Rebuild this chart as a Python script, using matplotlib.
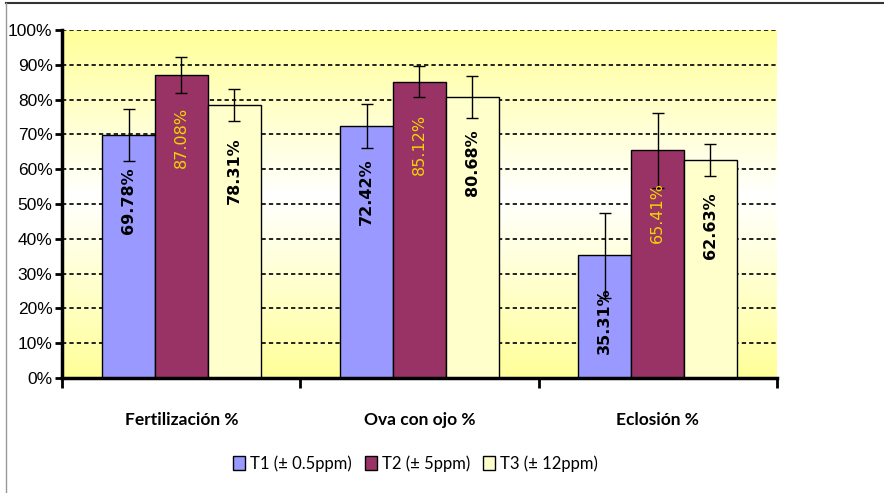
import numpy as np
import matplotlib
matplotlib.use("Agg")
import matplotlib.pyplot as plt
from matplotlib.colors import LinearSegmentedColormap
from matplotlib.lines import Line2D

categories = ["Fertilización %", "Ova con ojo %", "Eclosión %"]
series_names = ["T1 (± 0.5ppm)", "T2 (± 5ppm)", "T3 (± 12ppm)"]
t1 = [69.78, 72.42, 35.31]
t2 = [87.08, 85.12, 65.41]
t3 = [78.31, 80.68, 62.63]
t1_err = [7.5, 6.2, 12.2]
t2_err = [5.2, 4.4, 10.8]
t3_err = [4.6, 6.1, 4.7]
y_ticks = [0, 10, 20, 30, 40, 50, 60, 70, 80, 90, 100]

bar_colors = ["#9999FF", "#993366", "#FFFFCC"]
label_colors = ["black", "#F2D500", "black"]
label_weights = ["bold", "normal", "bold"]

fig = plt.figure(figsize=(8.84, 4.93), dpi=100)
ax = fig.add_axes([0.0705, 0.2333, 0.808, 0.7059])

# background gradient yellow -> white -> yellow
cmap = LinearSegmentedColormap.from_list("bg", [(0, "#FFFF99"), (0.52, "#FFFFFF"), (1, "#FFFF99")])
grad = np.linspace(0, 1, 256).reshape(-1, 1)
ax.imshow(grad, cmap=cmap, extent=[0, 3, 0, 100], aspect="auto", origin="lower", zorder=0)

for v in y_ticks[1:]:
    ax.axhline(v, color="#222222", lw=1.4, dashes=(2.2, 1.6), zorder=1)

x = np.arange(len(categories)) + 0.5
w = 0.222
all_vals = [t1, t2, t3]
all_errs = [t1_err, t2_err, t3_err]
for i in range(3):
    xs = x + (i - 1) * w
    ax.bar(xs, all_vals[i], w, color=bar_colors[i], edgecolor="black", lw=1,
           label=series_names[i], zorder=2)
    ax.errorbar(xs, all_vals[i], yerr=all_errs[i], fmt="none", ecolor="black",
                elinewidth=1, capsize=4.5, capthick=1, zorder=3)
    for xx, v in zip(xs, all_vals[i]):
        ax.annotate("%.2f%%" % v, (xx, v), xytext=(0, -32), textcoords="offset pixels",
                    rotation=90, ha="center", va="top", fontsize=11.5,
                    color=label_colors[i], fontweight=label_weights[i],
                    family="DejaVu Sans", zorder=4)

ax.set_xlim(0, 3)
ax.set_ylim(0, 100)
ax.set_yticks(y_ticks)
ax.set_yticklabels(["%d%%" % v for v in y_ticks], fontsize=12.5, family="Liberation Sans")
ax.set_xticks([0, 1, 2, 3])
ax.set_xticklabels([])
ax.tick_params(axis="y", direction="out", length=5, width=2, pad=2)
ax.tick_params(axis="x", direction="out", length=7, width=2)
for xx, c in zip(x, categories):
    ax.text(xx, -12, c, ha="center", va="center", fontsize=12.5, fontweight="bold",
            family="Lato", transform=ax.transData)

for s in ["top", "right"]:
    ax.spines[s].set_visible(False)
ax.spines["left"].set_linewidth(2.5)
ax.spines["bottom"].set_linewidth(2.5)

leg = fig.legend(loc="center", bbox_to_anchor=(0.47, 0.06), ncol=3, frameon=False,
                 prop={"family": "Lato", "size": 12}, handlelength=0.7, handleheight=0.9,
                 handletextpad=0.3, columnspacing=0.8)

# outer frame lines
fig.add_artist(Line2D([0.007, 1], [0.994, 0.994], color="#333333", lw=1.5))
fig.add_artist(Line2D([0.007, 0.007], [0, 0.994], color="#999999", lw=1))

fig.savefig("out.png", dpi=100)
